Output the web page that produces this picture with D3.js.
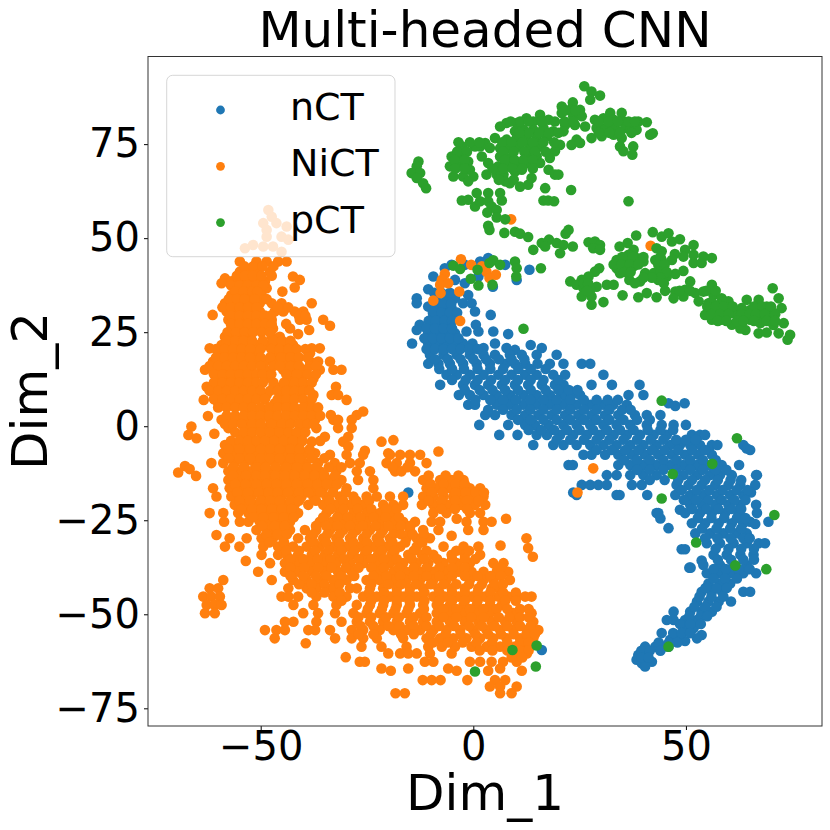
<!DOCTYPE html>
<html>
<head>
<meta charset="utf-8">
<script src="https://cdn.jsdelivr.net/npm/d3@7"></script>
<style>
  html, body { margin: 0; padding: 0; background: #fff; }
  text { font-family: "DejaVu Sans", sans-serif; fill: #000; }
</style>
</head>
<body>
<div id="chart"></div>
<script>
var xTicks = [-50, 0, 50];
var yTicks = [-75, -50, -25, 0, 25, 50, 75];
var classNames = ['nCT', 'NiCT', 'pCT'];
var classColors = ['#1f77b4', '#ff7f0e', '#2ca02c'];

// nCT, rows of [Dim_2, [Dim_1 ...]]
var nctRows = [
  [44.7,[3.5]], [43.8,[1.6]], [42.9,[7.5,-5.1,-2]], [42,[-6.7]], [41.6,[13.2]], [39.8,[-9.4,1.2]], [38.9,[10.2,-4.3]], [38,[-2]],
  [37.1,[4.6]], [36.4,[-10.6]], [34.9,[-1.2]], [34,[-13.3,-4.3]], [33.6,[-8.6,-6.3]], [32.7,[-13.3,-2.4,-0.4]], [31.8,[-10.6]], [31.4,[-9,-7.1,-5.1]],
  [30.5,[0.4]], [29.6,[4.1,-4.3]], [29.2,[-9.4,-7.4,-5.5]], [27,[-12.6,-9.8,-7.8,-5.5,0.6]], [25.6,[-13.3]], [25.2,[-1.6,1.2,4.7]],
  [24.7,[-10.6,-8.6,-6.7,-4.3]], [24.5,[8.2]], [22,[-14.4,-10.6,-8.6,-6.7,-4.7,-2.4,-0.2,5.1]], [21.6,[13.5]], [20.8,[2.4,7.8,16.1]], [20.3,[9.8]],
  [19,[-10.2,-7,-3.9,-0.8,2.4,5.1,8.6,11.4,14.9,19.6]],
  [16.6,[-10.6,-8.2,-5.5,-2.4,0.8,3.9,7.5,9.8,12.2,15.1,18,21.2,25.5,27.5]],
  [13.7,[-6.3,-3.9,-0.8,2.4,5.9,9,12.2,14.9,18.8,21.6,30.6]],
  [11,[-7.8,-2.4,0.4,3.5,6.7,9.8,12.9,16.1,19.2,21.2,27.8,32.6,39.1]],
  [8.3,[-3.4,-0.8,2.4,5.5,8.6,11.8,14.9,18,21.2,23.1,25.1,40,36.5]],
  [6.1,[45.9,49.7]], [5.4,[47.5]],
  [5.7,[-1.2,0.4,5.5,8.6,11.8,14.9,18,21.2,24.3,27.5,30.6,32.9,36.1]],
  [3,[2.8,5.1,9,12.2,15.3,18.4,21.6,24.7,27.8,31,34.1,38,40.8,44]],
  [0.35,[1.4,8.2,12.2,14.5,17.7,21.2,24.3,27.5,30.6,33.7,36.9,40.8,44.3,47.1,50]],
  [-2.3,[6.1,10.4,14.9,17.3,20.4,23.5,26.7,29.8,33,36.1,39.2,42.4,45.5,51.4,53.3,54.5]],
  [-5,[14.1,18.8,21.2,24.3,27.5,30.6,33.7,36.9,40,43.1,46.3,48.6,51,53.3,56.1,57.4,63.5]], [-5.9,[64.3]], [-6.3,[65.1]],
  [-7.6,[25.9,27.8,31,34.1,37.3,40.4,43.5,46.7,49.8,52.9,56.1]],
  [-10.3,[22.4,23.4,34.1,36.9,40,43.1,46.3,49.4,52.6,55.7,58.4,62.5]],
  [-13,[31.4,33.7,36.9,40,43.1,49.4,52.6,55.7,58,60.8,66.7,66.5]],
  [-15.6,[25.5,27.5,29.4,31.4,37.3,39.6,47.8,50.6,53.7,56.9,60,62.8,66.3]],
  [-17.6,[-15.3,23.5,65.3]],
  [-18.3,[24.3,33.7,34.4,40.9,47.5,51,54.1,57.3,60.4,63.5]],
  [-20.9,[66.5,51,53.7,56.9,60,62.8]], [-22.2,[48.6]],
  [-23.1,[43.5,43.1,49.8,53.3,56.1,59.2,62.4,66.7]],
  [-24.5,[44]], [-25.4,[69.4,65.1]], [-26,[66.3]],
  [-25.8,[51.4,54.5,57.7,60.8,63.5]], [-27.1,[45.9]],
  [-28.5,[52.2,55.7,58.8,61.9,64.3]],
  [-31.1,[54.9,58,61.2,64.3,67.1,68.6]], [-32.7,[49,49.8]],
  [-34.2,[56.5,59.6,62.8,65.9]], [-35.7,[53.7]], [-36.9,[54.1,58,61.2,64.3]], [-37.6,[50.8,51.1]],
  [-39.1,[54.9,57.7,60.8,63.5,66.5]],
  [-41.8,[55.3,58,60.4]],
  [-44,[53.7,56.1,58.5,63.5,65.1]],
  [-46.6,[52.6,55.3,57.7,60.6]],
  [-49.3,[47.1,51,53.7,56.1]],
  [-51.5,[49.8,52.6,47.1,45.5]],
  [-53.7,[49.8,51.8]], [-55,[44.3]], [-55.5,[53.7]], [-56.4,[52.6,48.2]], [-56.8,[46.3]], [-57.1,[49.8]],
  [-58.6,[42.8,44.7,45.9,40.4]], [-59.5,[16.1]],
  [-60.8,[38.8,40.4]], [-62.1,[38.4]], [-62.6,[42]], [-63,[39.6]], [-63.9,[40.4]]
];

// nCT points inside the solid part of the band
var nctDense = [
  [35.5,[-9.2,-7.5,-5.5]], [32.5,[-9,-7.2,-5.2]], [30.2,[-9.5,-7.5,-5.5,-3.8]], [28,[-10.5,-8.8,-6.8,-5]], [26,[-11,-9,-7,-5]],
  [23.4,[-11.5,-9.5,-7.5,-5.5,-3.5]], [20.5,[-11,-9,-7,-5,-3,-1,1]], [17.8,[-9,-6,-3,0,3,6,9,12]],
  [15.2,[-8,-5,-2.2,1,4,7,10.6,13.5,17]], [12.3,[-5,-1.8,1,4.2,7.5,10.5,13.5,16.5,20]],
  [9.6,[-2,1.5,4.5,7.5,10.5,13.5,17,20,22.5,24.5]], [7,[0.5,4,7,10,13.4,16.5,19.6,22.8,26,29,31.6,34]],
  [4.4,[3.5,7,10.2,13.4,16.5,19.6,22.8,26,29,32,35,37]], [1.7,[10.5,13.5,16.5,19.6,22.8,26,29,32,35.3,38.5,41.5]],
  [-1,[13,16,19,22,25,28.2,31.4,34.5,37.7,41,44,47]], [-3.6,[19.6,22.8,26,29,32,35.3,38.5,41.7,44.7,47.7,50,52.3]],
  [-6.3,[29,32.5,35.7,38.8,42,45,48.2,51.4,54.5]], [-9,[35.5,38.5,41.5,44.7,47.8,51,54,57]],
  [-11.6,[38.5,41.5,44.7,47.8,51,54,57,59.5]], [-14.3,[41.5,45,48.2,51.4,54.5,57.5,60.5,63]],
  [-17,[49,52.5,55.5,58.6,61.9,64.5]], [-19.6,[49.5,52.4,55.3,58.4,61.4,64]], [-22,[51.5,54.8,57.6,60.7,63]],
  [-24.4,[52.8,56,59,62,64]], [-27.2,[53.8,57.2,60.4,63]], [-29.8,[54.5,57.4,60.5,63.5,65]],
  [-32.6,[57,60,63,66]], [-35.5,[57.5,60.6,63.5,66]], [-38,[56.5,59.4,62.4,65]], [-40.5,[56.5,59.2,62]],
  [-43,[54.6,57.2,59.6]], [-45.3,[53.2,56,58.8]], [-48,[52,54.5,57.2]], [-50.5,[50.8,53.5,55]],
  [-52.6,[48.6,51,53.5]], [-55,[47,49,51]], [-57.5,[43.6,46,48]], [-59.7,[39.5,41.5,44]], [-61.5,[39.6,41.2]]
];

// NiCT, same layout
var nictRows = [
  [57.5,[-48.2]], [55.7,[-47.4]], [55,[8.9]], [54,[-49.4,-46.3]], [53.1,[-43.9]], [52.2,[-48.6]], [50.4,[-45.1,-48.6]], [49.6,[-43.5]],
  [48.2,[-51.8]], [48,[41.7]], [47.8,[-49.4,-47.1]], [47.3,[-53.7]], [46.4,[-45.1]], [44.4,[-2.9]],
  [43.8,[-54.9,-51,-48.6,-45.9,-43.9]], [42.9,[-0.5]], [42.5,[2]],
  [41.1,[-54.9,-52.5,-50.6,-47.8,3.1]], [40.5,[-6.7]], [40.3,[5.3]],
  [39.8,[-42.4]], [39.4,[3.8]], [39.3,[-58.4]], [38.9,[-40.8,-7.4]], [38,[-59.2,-5.9]],
  [38.5,[-56.9,-54.9,-53,-51,-49]], [37.6,[-7.8]], [36.9,[-42]],
  [36.7,[-55.7,-53.7,-51.4,-48.6]], [35.8,[-44.9,-3.3]], [35.4,[-7.7]],
  [34.9,[-56.9,-54.9,-53,-49.8]], [33.4,[-9.4]],
  [32.7,[-58.4,-56.5,-54.5,-52.5,-50.2,-47.4,-45.1,-38]],
  [30.5,[-58,-56.1,-54.1,-52.2,-50.2,-46.7,-44.7,-42,-40]], [29.6,[-61.3]],
  [28.3,[-57.6,-55.7,-53.7,-51.8,-49.4,-47.4,-40.8,-39.2,-35.3]], [28,[-3.1]], [26.7,[-33.7]],
  [26,[-56.9,-54.9,-53,-51,-49,-47.1,-43.1]], [25.6,[-38.6]], [24.5,[-41.2]],
  [23.8,[-58.4,-56.5,-54.5,-52.5,-47.4,-45.5]],
  [21.6,[-59.2,-56.9,-54.9,-53,-51,-48.6,-46.7,-44.3,-42.4]], [20.7,[-62,-36.1,-38]],
  [19.4,[-59.6,-57.6,-55.7,-53.7,-51.8,-46.7,-44.3,-42,-38.4]],
  [17.2,[-61.2,-59.2,-57.3,-55.3,-53.3,-51.4,-49,-47,-43.9,-41.6,-38.4,-36.5,-33.7]],
  [15,[-63.1,-60.4,-58.4,-56.5,-54.5,-52.5,-49,-44.7,-42.4,-40,-36.1,-32.9,-31]],
  [12.7,[-60,-58,-56.1,-54.1,-52.2,-49,-42.7,-40.4,-37.6]],
  [10.5,[-62.7,-60.8,-58.8,-56.9,-54.9,-53,-51,-47,-45.1,-43.1,-41.2,-39.2,-32.3]],
  [8.3,[-60.8,-58.8,-56.9,-54.9,-53,-51,-48.6,-44.7,-42.7,-40.8,-37.6,-33.3,-31.8]], [7,[-63.4,-29.8]],
  [6.1,[-60,-58,-56.1,-54.1,-52.2,-46.7,-44.7,-42.7,-39.2]],
  [3.9,[-53.3,-51,-48.6,-46.3,-43.9,-41.6,-38.8,-37.2,-25.9]], [3,[-27.4,-33.5]], [2.7,[-62.4]],
  [1.7,[-59.2,-57.3,-55.3,-52.5,-50.2,-47.8,-45.5,-43.1,-39.2,-37.2,-32.9,-31.8,-28.6]],
  [-0.1,[-66.3]],
  [-0.5,[-57.6,-53.3,-51,-48.6,-46.3,-43.9,-40.8,-36.9,-31.8,-28.6]], [-2,[-60.9]], [-2.3,[-67]], [-3.2,[-65.1]],
  [-2.8,[-54.5,-52.2,-49.8,-47.4,-45.1,-42.7,-40.4,-34.9,-29.4]], [-3.7,[-18.8]], [-4.1,[-38,-30.6,-21.6]],
  [-5,[-58.4,-56.1,-53.3,-51,-48.6,-46.3,-43.9,-41.6]], [-5.4,[-29.4]], [-6.5,[-25.5]], [-6.7,[-8.2]],
  [-7.2,[-58.8,-56.1,-53.7,-51.4,-49,-46.7,-44.3,-42,-39.6,-37.2,-20]],
  [-7.6,[-33.7,-29.8,-25.9,-19.6,-17.2,-14.9,-12.5]],
  [-9.8,[-61.6,-58.8,-56.1,-53.7,-51.4,-49,-46.7,-44.3,-42,-39.6,-36.5,-32.6,-29,-26.7,-20.4,-18,-14.9,-11]], [-10.6,[-67.8]], [-11.4,[-66.7]],
  [-12,[-57.6,-54.9,-52.5,-50.2,-47.8,-45.5,-43.1,-40.8,-38.4,-36.1,-32.2,-27.4,-24.3,-18.4,-16.9,-13.7]], [-12.3,[-69.4]], [-13.2,[-65.2]],
  [-14.3,[-57.6,-55.3,-52.5,-50.2,-47.8,-45.5,-43.1,-40.8,-38.4,-36.1,-33.7,-31,-27.1,-23.5,-11.8,-7.8,-5.1,-2.3]],
  [-16.5,[-61.2,-57.3,-54.1,-51.8,-49.4,-47.1,-44.7,-42.4,-40,-37.6,-35.3,-32.9,-29.8,-23.5,-11,-8.6,-5.5,-3.1,-0.8,1.6]],
  [-18.7,[-60.4,-56.9,-54.5,-52.2,-49.8,-47.4,-45.1,-42.7,-40.4,-37.6,-34.5,-31.4,-28.2,-25.1,-22.7,-19.6,-16.5,-11.8,-9.4,-7,-4.7,-2.3,0,2.4]],
  [-20.9,[-56.1,-53.7,-51.4,-49,-46.7,-44.3,-42,-38.8,-35.3,-32.2,-29,-25.9,-21.2,-18.8,-16.5,-12.1,-9.4,-5.9,-2.8,0.4,2.8]],
  [-23.1,[-62,-58.8,-55.3,-52.9,-50.6,-48.2,-45.9,-43.5,-41.2,-34.5,-31.4,-28.2,-25.1,-22,-19.2,-9.4,-6.3,-0.8,1.6]], [-24.6,[7.7,-3.9]],
  [-25.4,[-58.6,-54.9,-52.9,-50.2,-47.8,-45.5,-43.1,-36.1,-33.3,-30.6,-27.9,-25.1,-22,-18.8,-16.5,-13.7,-9.8,-7.8,-1.6,2.4,4.3]],
  [-27.6,[-51,-47.8,-45.5,-43.1,-39.6,-36.9,-33.7,-30.6,-27.4,-24.3,-21.2,-18,-14.9,-11.8,-8.2,-1.2,2.4]], [-28.9,[-60.4]], [-29.1,[-5.1]],
  [-29.8,[-57.3,-53.3,-49.8,-47.1,-44.7,-41.2,-38.4,-35.3,-32.2,-29,-25.9,-22.7,-19.6,-15.7,-13.3,-10.2,12.5]], [-31.7,[6.4]],
  [-32,[-58.4,-55,-49.4,-45.9,-42.4,-39.2,-36.1,-32.9,-29.8,-26.7,-23.5,-20.4,-17.2,-13.3,-7,-2.3,1.2]], [-32.4,[12.9]],
  [-34.2,[-49.8,-45.9,-43.9,-41.2,-38,-34.9,-31.8,-28.6,-25.5,-22.4,-19.2,-15.3,-12.1,-9.4,-5.1,-2,1.6]], [-34.7,[14]], [-35.8,[-53.5]],
  [-36.4,[-47.8,-44.3,-41.6,-38.4,-35.3,-32.2,-29,-25.9,-22.7,-19.6,-16.5,-13.3,-10.6,-7,-3.9,-0.8,4.7,7.1]],
  [-38.7,[-50.6,-44.3,-41.2,-38,-34.9,-31.8,-28.6,-22,-18.8,-15.7,-12.5,-9.4,-6.7,-3.5,-0.4,2.4,5.5,8.2]],
  [-40.9,[-58.8,-47.4,-42.4,-39.2,-36.1,-32.9,-29.8,-25.1,-22,-18.8,-15.7,-12.5,-9.4,-6.3,-0.8,2.4,4.7,8.6]],
  [-43.1,[-62,-60,-43.5,-39.2,-36.9,-33.3,-29,-27.4,-24.3,-21.2,-18,-14.9,-11.8,-8.2,-5.1,-2,1.2,4.3,5.9]],
  [-45.3,[-63.5,-61.6,-59.6,-45.1,-43.5,-41.2,-36.9,-32.9,-29.8,-25.9,-22.7,-19.6,-16.5,-13.3,-9.4,-6.7,-3.5,-0.4,2.7,5.9,8.2,10.2,13.7,12.2]],
  [-47.5,[-62.7,-60.8,-59.2,-42.3,-37.6,-32.2,-27.4,-24.3,-21.2,-18,-14.9,-11.8,-8.6,-5.5,-2.3,0.8,3.9,6.7]],
  [-49.7,[-63.1,-60.8,-40,-36.5,-32.5,-28.2,-25.1,-22,-18.8,-15.7,-12.5,-8.6,-5.5,-2.3,0.8,3.9,9.4,13.7]],
  [-52,[-42.3,-44.3,-36.9,-31,-27.4,-24.3,-21.2,-18,-14.9,-11.8,-8.6,-5.5,-2,1.2,4.3,7.5,10.2,14.1]],
  [-54.2,[-49,-46.3,-44.3,-38.8,-37.2,-33.7,-28.6,-25.9,-22,-18.8,-15.7,-12.5,-9.4,-6.3,-3.1,0,3.1,6.3,9.4,12.6,15.3]],
  [-56.4,[-46.7,-32.5,-28.6,-25.9,-22.7,-16.5,-11,-7.8,-4.7,-1.6,1.6,4.7,7.8,11,14.1]], [-57.7,[-39.4]],
  [-58.6,[-26.3,-21.6,-15.7,-10.6,-7.4,-4.3,-0.4,3.1,6.3,9.8,12.6]],
  [-60.4,[-20,-17.2,-15.3,-13.3,-10.2,-5.1,10.2,12.6]], [-61.4,[-30]],
  [-62.6,[-26.7,-25.5,-11.4,-9.4,-0.8,1.6,4.3,7,10.2]],
  [-64.4,[-21.6,-15.3,-5.9,6.3]], [-65,[-19.4,-3.9,3.5,11.4]],
  [-67.5,[-11.9,-9.8,-7.7,-1.4,5.1,7.5]],
  [-69.2,[3.9,6.3,10.2]],
  [-71,[-18.3,-16.1,6.3,9]],
  [-11.2,[28.2]], [-17.6,[24.5]]
];

// NiCT points inside the solid parts of the cloud
var nictDense = [
  [42.5,[-53.8,-51.8,-49.6,-47]], [40,[-55.6,-53.7,-51.8,-49.8,-47.4]], [37.5,[-57,-55,-53,-51,-49.4]], [35.8,[-56,-54,-52,-50.8]],
  [33.8,[-57.5,-55.6,-53.8,-51.4,-48.6]], [31.6,[-59,-57,-55,-53,-51,-46,-43.5]], [29.4,[-57,-55,-53,-51,-49,-47.6,-41,-39.5]],
  [27.2,[-57,-55,-53,-51,-49,-47.4,-44]], [25,[-57.8,-55.8,-53.8,-51.8,-49.8,-47.8]], [22.7,[-58,-56,-54,-52,-49.5,-47,-45,-43]],
  [20.5,[-60.5,-58.5,-56.5,-54.5,-52.5,-50,-47.5,-45.5,-43.5,-41.5,-39.5]], [18.3,[-60.5,-58.5,-56.5,-54.5,-52.5,-50,-47.8,-45.2,-43,-41,-39]],
  [16,[-62,-60,-58,-56,-54,-52,-50,-47,-45.5,-43,-41,-38.5,-37]], [13.8,[-61,-59,-57,-55,-53,-51,-49.5,-47.5,-44,-41.5,-39,-37]],
  [11.6,[-61,-59,-57,-55,-53,-51,-49.5,-47,-44.5,-42,-40,-38]], [9.4,[-62,-60,-58,-56,-54,-52,-50,-47.8,-46,-44,-42,-40,-38.5]],
  [7.2,[-61,-59,-57,-55,-53,-51,-49,-46,-44,-42,-40,-38]], [5,[-60,-58,-56,-54,-52,-50,-48,-46,-44,-42,-40,-38,-36.5]],
  [2.8,[-58,-56,-54,-52,-50,-48,-46,-44,-42,-40,-38,-36]], [0.6,[-58.4,-56.5,-54.5,-52,-50,-47.5,-45,-43,-41,-39,-37.5]],
  [-1.6,[-56,-54,-52,-50,-47.8,-45.6,-43.4,-41.5,-39.5]], [-3.9,[-57,-55,-53,-51,-49,-46.8,-44.6,-42.4,-40.2,-36]],
  [-6.1,[-57.6,-55,-52.5,-50,-47.8,-45.5,-43,-40.8,-38.5]], [-8.5,[-57.5,-55,-52.5,-50,-47.8,-45.5,-43,-40.8,-38,-35]],
  [-10.9,[-56.5,-54,-51,-48.8,-46.4,-44,-41.5,-39,-37,-34,-31,-19,-15.5]], [-13.1,[-56.5,-53.5,-51,-49,-46.6,-44.3,-42,-39.6,-37.3,-35,-32.5,-10.5,-6.5,-3.5]],
  [-15.4,[-56,-53.5,-51,-48.6,-46.3,-44,-41.5,-39,-36.7,-34.5,-32,-10,-7,-4.2,-2]], [-17.6,[-55.5,-53,-50.5,-48.2,-46,-43.6,-41,-38.8,-36,-33,-30,-9.8,-7.2,-4.2,-1.8,0.6,2.5]],
  [-19.8,[-55,-52.5,-50,-47.8,-45.5,-43,-41,-37,-33.8,-30.6,-27.5,-24.5,-10.5,-7.5,-4.2,-1.5,1.2]], [-22,[-54.5,-52,-49.8,-47.4,-45,-42.8,-33.5,-30.5,-27.2,-24,-20.5,-18,-7.5,-4.3,-1.5]],
  [-24.2,[-51.8,-49.4,-47,-44.6,-42.2,-35.3,-32,-29.5,-26.5,-23.5,-20.6,-17.5]], [-26.5,[-49.6,-46.7,-44.3,-37,-34.6,-32,-29,-26,-23,-20,-17,-14.8]],
  [-28.7,[-48.7,-46,-43.8,-37.6,-34.3,-31.4,-28.4,-25.1,-21.8,-18.8,-17,-14.3,-11.6]], [-30.9,[-48,-44.5,-37.5,-34.6,-31.5,-28.2,-25,-22,-19,-16,-12]],
  [-33.1,[-44,-41,-37.2,-34,-31,-28,-25,-21.5,-18.5,-14,-11,-4,-1]], [-35.3,[-43,-40,-36.6,-33.6,-30.4,-27,-24,-21,-18,-14.5,-11.5,-8.5,-5,-2,0.5]],
  [-37.6,[-43,-39.8,-36.5,-33.4,-30,-27,-24,-21,-17.5,-14,-11,-8,-5,-2,5.7,6.5]], [-39.8,[-43,-40,-37,-34.5,-31,-28,-23.5,-20.4,-17.2,-14,-11,-8,-5,-2,1,4,6.5]],
  [-42,[-41,-38,-35,-31.5,-24,-20,-17,-13.5,-10,-7,-4,-1,2,5,7]], [-44.2,[-38,-35,-31.4,-24.5,-21,-18,-15,-11.5,-8,-5,-2,1,4,7,10]],
  [-46.4,[-31,-24,-21,-18,-15,-11.5,-8,-5,-2,1,4,7.5,10]], [-48.6,[-24.8,-21.5,-18.3,-15.3,-11.6,-7,-4,-0.8,2.4,5.5,8,11,13]],
  [-50.8,[-27,-24,-20.5,-17.5,-14,-11,-7,-4,-0.5,2.5,6,8.5,11,13]], [-53.1,[-26.5,-23.5,-20,-17.3,-14,-11,-8,-4.5,-1,2,5,8,11,13.5]],
  [-55.3,[-27,-23.5,-17,-14,-10,-6.5,-3,0.5,3.5,6.5,9.5,12.5,14.5]], [-57.5,[-9.5,-6,-2.5,0.8,4.4,8,11,13]], [-59.6,[1.5,4.5,8,11,13]], [-61.5,[9,11.5]]
];

// pCT as [Dim_1, Dim_2] pairs
var pctPoints = [
  [26.1,90.4],[27.8,89],[29.8,87.9],[27.5,86.8],[20.8,85],[23.4,86.1],[25.1,84.1],[22.8,84.1],[20.8,83.3],[23.5,82.4],[25.5,82.4],[21.6,80.1],[23.9,80.1],[26.3,79.7],
  [28.6,81.5],[30.6,81.9],[32.2,83.3],[34.9,83.3],[33,81.5],[35.3,81],[29,79.3],[31,79.3],[33.3,79.3],[35.7,79.3],[30.2,77.1],[33,77.5],[27.8,76.6],[34.9,76.6],[36.9,78.8],[38.8,81],[40.8,80.8],[38.4,78.8],[42.2,77.9],[41.6,77.5],
  [34.5,74.4],[37.6,74.4],[35.3,73.1],[37.4,72.2],[24.3,76.2],[23.1,74.8],[25.1,75.3],
  [7.8,80.6],[6.3,79.7],[10.2,80.6],[12.5,81.9],[15.7,82.8],[14.1,81],[17.7,81.5],[19.2,81],[16.5,79.3],[14.1,78.8],[11.8,78.8],[9.8,78.4],[21.2,78.4],[18.8,78.4],
  [5.1,76.6],[7.8,76.2],[10.2,76.6],[12.5,76.6],[14.9,76.6],[17.3,77],[8.2,73.9],[10.6,74.4],[13.3,74.4],[15.7,74.4],[6.3,73.9],[20.4,74.8],[19.2,73.1],[18,71.3],
  [6.3,71.7],[8.6,71.3],[12.9,72.2],[14.9,71.7],[5.9,69.1],[8.2,69.1],[10.6,69.5],[12.9,70],[15.7,70],[7.1,66.9],[9.8,67.7],[11.4,68.2],
  [-2.7,74.4],[-5.1,71.7],[-3.1,71.7],[-1.2,70.4],[-5.5,69.1],[-3.1,69.1],[-0.8,68.2],[-4.7,66.4],[-2.4,66.4],[0,66.4],[-1.2,65.1],[1.6,74.4],[2.8,75.3],[0.4,74.4],[2,71.7],[3.9,74],[3.5,70],[3.1,66.9],[5.5,66.9],[6.3,67.7],[8.6,64.6],
  [7.5,65.1],[11,63.7],[12.9,64.2],[13.7,66],[17.7,68.2],[19.2,66.9],[20,66.9],[16.9,63.3],[23,62.8],[36.5,59.8],[16.5,60],[17.6,60],[19,59.8],
  [-12.9,70.4],[-13.3,69.1],[-14.5,67.3],[-12.5,67.3],[-13.3,66],[-11.8,64.6],[-11.1,63.3],
  [-2.7,60],[-1.2,60.2],[0.8,62],[3.5,62],[0.4,58.4],[1.6,59.8],[3.5,59.8],[6.7,60],[4.3,58.4],[6.3,62],[3.3,56.8],[5.5,57.5],[5.5,55.5],[7.5,55],
  [3.5,53.3],[3.8,52.2],[7.3,51.4],[9.8,51.7],[11,51.2],[12.9,50.3],[22.4,52.2],[21.7,51.2],
  [14.1,46.9],[16.1,48.7],[17.8,49.6],[16.9,47.8],[19.6,48.7],[21.2,48.2],[20.4,46],[23.4,47.8],[27.1,48.9],[28.6,49.1],[29.8,48.2],[28.2,47.3],[29.8,46.9],[34.4,47.8],[36.3,48.7],
  [38.3,50.7],[42.2,51.6],[44.3,50.4],[45.9,51.3],[46.7,49.1],[48.6,49.7],[51.8,48.2],[49.8,46.9],[43.1,47.3],[44.3,46.5],[47.4,45.8],[49.4,45.1],[51.8,43.4],[53.7,43.4],[56.1,44.7],[54.1,45.1],[51.8,45.6],
  [44.3,44.2],[42.8,44.2],[46.7,44.2],[43.9,41.6],[37.7,46.9],[36.5,45.6],[33.7,44.2],[36.1,43.8],[38.4,44.7],[40,43.8],[33.7,42],[35.7,42.5],[37.7,42.5],[34.5,40.7],
  [29.6,42],[28.6,41.1],[27.1,39.8],[25.5,38.9],[22.8,38.5],[24.3,37.6],[25.9,38],[29,37.1],[27.5,36.3],[25.9,36.7],[25.5,34.5],[27.8,34.5],[30.6,33],[27.8,32.3],[31.4,37.6],[33,37.6],[35.1,34.8],
  [36.7,38.9],[39.2,38.5],[40.4,40.7],[42.4,40.7],[43.5,38.9],[45.5,39.8],[47.5,40.5],[49.4,41.3],[38.8,34.3],[40.8,35.4],[43.1,34.3],
  [45.1,36],[47.5,35.8],[49.8,36.3],[51,38.5],[47.1,34],[49.4,34.5],[52.2,35.4],[53,33.2],
  [56.1,37.6],[54.1,35.8],[56.5,34.9],[58.4,34],[55.3,32.7],[57.7,32.3],[60,33.2],[54.5,29.6],[56.9,30.9],[59.2,30.5],[56.1,28.3],[58.4,28.3],[60.8,27],[61.6,30],
  [64.3,33.6],[63.1,31.4],[65.1,30.9],[67.1,33.6],[69,31.8],[67.5,30],[69.8,29.2],[65.1,28.3],[67.5,27.4],[70.6,26.9],[73,27.4],[64,25.6],[62.8,26],
  [70.4,36.7],[71.8,34],[72.5,31.4],[70.6,30.1],[67.1,24.7],[69,24.9],[71.8,24.7],[74.5,24.3],[73.9,23],
  [-4.7,42.7],[-3.1,41.8],[1,41.6],[-0.6,39.2],[1.2,37.4],[4.5,37.6],[3.8,43.4],[4.7,44.1],[6.3,42.9],[9.8,43.8],[10.2,42],[10.1,39.8],[15.9,42],[11.8,25.9],
  [44.3,6.8],[62,-3.2],[56.2,-10],[46.9,-12.7],[44.3,-19.2],[70.8,-23.6],[52.4,-30.9],[61.6,-37],[68.9,-38],[45.9,-58.6],[9.2,-59.5],[14.9,-58.3],[14.7,-63.9],[0.4,-65.2]
];

// pCT points inside the solid parts, as rows
var pctDense = [
  [84,[21.8,24]], [81,[21.5,23.5,29.5,31.8,34,36.5,38,16,8.8,11,13]], [78,[29.5,32,34.5,37.2,13,15.5,17.8,20,10.8]],
  [75.5,[6.8,9,11.5,14,16.5,19,-3.5,-0.8,1.4]], [73,[-3.8,-1.5,7,9.5,12,14.5,17]], [70.8,[-4.4,-2,7.4,9.7,11.8,14]],
  [68.5,[-4.2,-2,4.5,7,9.2,11.5,14]], [65.5,[6,9.5]], [45,[35,37.5,40,44]], [43,[33,34.8,36.8,38.8,43.5,45]],
  [41,[35.5,37,44,45.5]], [39.5,[44,42,40]], [38,[26,27,44.8,38]], [36,[26.7,48.5,51,54.8,57]], [33,[56,58.8,59.5]],
  [31.8,[55,57,59,61,66,68,70]], [29.8,[56,58,60,63,65,66.5,68.5,71]], [28,[57.5,59.5,62,63.5,66,69,71]]
];

function fromRows(rows) {
  var out = [];
  rows.forEach(function (r) {
    r[1].forEach(function (x) { out.push([x, r[0]]); });
  });
  return out;
}

var W = 830, H = 830;
var plotL = 148, plotR = 822, plotT = 56.5, plotB = 726;
var RADIUS = 5.3;

var svg = d3.select('#chart').append('svg').attr('width', W).attr('height', H).style('display', 'block');

var x = d3.scaleLinear().domain([-76.5, 82]).range([plotL, plotR]);
var y = d3.scaleLinear().domain([-79.7, 98.3]).range([plotB, plotT]);

function fmt(d) { return String(d).replace('-', '\u2212'); }

// draw order is nCT, NiCT, pCT
[
  fromRows(nctRows.concat(nctDense)),
  fromRows(nictRows.concat(nictDense)),
  pctPoints.concat(fromRows(pctDense))
].forEach(function (pts, i) {
  svg.append('g').selectAll('circle').data(pts).enter().append('circle')
    .attr('cx', function (d) { return x(d[0]); })
    .attr('cy', function (d) { return y(d[1]); })
    .attr('r', RADIUS)
    .attr('fill', classColors[i]);
});

var gx = svg.append('g').attr('transform', 'translate(0,' + plotB + ')')
  .call(d3.axisBottom(x).tickValues(xTicks).tickFormat(fmt).tickSize(4).tickPadding(2));
var gy = svg.append('g').attr('transform', 'translate(' + plotL + ',0)')
  .call(d3.axisLeft(y).tickValues(yTicks).tickFormat(fmt).tickSize(4).tickPadding(4));
[gx, gy].forEach(function (g) {
  g.selectAll('.domain').remove();
  g.selectAll('text').style('font-size', '40px').style('font-family', '"DejaVu Sans"');
  g.selectAll('line').attr('stroke', '#000').attr('stroke-width', 1);
});

svg.append('rect').attr('x', plotL).attr('y', plotT)
  .attr('width', plotR - plotL).attr('height', plotB - plotT)
  .attr('fill', 'none').attr('stroke', '#333').attr('stroke-width', 1);

// legend
svg.append('rect').attr('x', 166.7).attr('y', 75.3).attr('width', 228.3).attr('height', 181.4)
  .attr('rx', 6).attr('fill', '#fff').attr('fill-opacity', 0.8)
  .attr('stroke', '#ccc').attr('stroke-opacity', 0.8).attr('stroke-width', 1);
classNames.forEach(function (name, i) {
  var cy = 110 + i * 56.3;
  svg.append('circle').attr('cx', 220.5).attr('cy', cy).attr('r', 4.4).attr('fill', classColors[i]);
  svg.append('text').attr('x', 290).attr('y', cy + 10).style('font-size', '38px').text(name);
});

svg.append('text').attr('x', (plotL + plotR) / 2).attr('y', 47)
  .attr('text-anchor', 'middle').style('font-size', '50px').text('Multi-headed CNN');
svg.append('text').attr('x', (plotL + plotR) / 2).attr('y', 810)
  .attr('text-anchor', 'middle').style('font-size', '50px').text('Dim_1');
svg.append('text').attr('transform', 'translate(47,391) rotate(-90)')
  .attr('text-anchor', 'middle').style('font-size', '50px').text('Dim_2');
</script>
</body>
</html>
